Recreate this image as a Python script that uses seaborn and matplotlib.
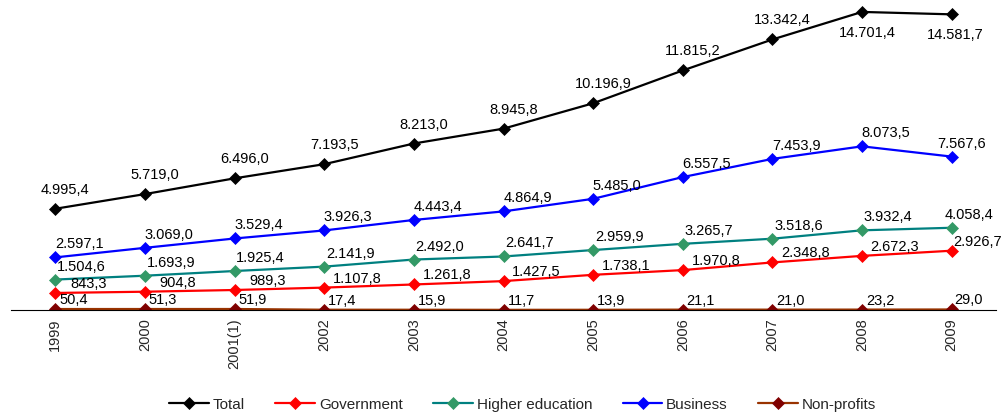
import numpy as np
import pandas as pd
import seaborn as sns
import matplotlib.pyplot as plt

# Data
years = ["1999", "2000", "2001(1)", "2002", "2003", "2004", "2005", "2006", "2007", "2008", "2009"]
total = [4995.4, 5719.0, 6496.0, 7193.5, 8213.0, 8945.8, 10196.9, 11815.2, 13342.4, 14701.4, 14581.7]
government = [843.3, 904.8, 989.3, 1107.8, 1261.8, 1427.5, 1738.1, 1970.8, 2348.8, 2672.3, 2926.7]
higher_education = [1504.6, 1693.9, 1925.4, 2141.9, 2492.0, 2641.7, 2959.9, 3265.7, 3518.6, 3932.4, 4058.4]
business = [2597.1, 3069.0, 3529.4, 3926.3, 4443.4, 4864.9, 5485.0, 6557.5, 7453.9, 8073.5, 7567.6]
non_profits = [50.4, 51.3, 51.9, 17.4, 15.9, 11.7, 13.9, 21.1, 21.0, 23.2, 29.0]

sns.set_style("white")
plt.rcParams['font.family'] = ['Liberation Sans', 'DejaVu Sans']


def fmt(v):
    # european number format: 1.234,5
    s = f"{v:,.1f}"
    return s.replace(",", "X").replace(".", ",").replace("X", ".")


# name, values, line colour, marker colour, label offset (px), x offset of last label
series = [
    ("Total", total, "#000000", "#000000", (10, 19), 4),
    ("Government", government, "#FF0000", "#FF0000", (33, 9), 26),
    ("Higher education", higher_education, "#008080", "#339966", (26, 13), 17),
    ("Business", business, "#0000FF", "#0000FF", (24, 13), 10),
    ("Non-profits", non_profits, "#993300", "#800000", (18, 9), 17),
]

x = np.arange(len(years))

fig = plt.figure(figsize=(10.05, 4.19), dpi=100)
ax = fig.add_axes([0.0105, 0.260, 0.981, 0.726])

handles = []
for name, vals, lc, mc, (dx, dy), last_dx in series:
    sns.lineplot(x=x, y=vals, color=lc, marker="D", markersize=6,
                 markerfacecolor=mc, markeredgecolor=mc, markeredgewidth=0.5,
                 linewidth=1.6, ax=ax, label=name)
    handles.append(ax.get_lines()[-1])
    for i, v in enumerate(vals):
        ox, oy = dx, dy
        if i == len(vals) - 1:
            ox = last_dx
        # the two top Total labels sit under the markers
        if name == "Total" and i >= 9:
            ox, oy = 5 if i == 9 else 4, -21
        ax.annotate(fmt(v), (x[i], v), xytext=(ox, oy), textcoords="offset pixels",
                    ha="center", va="center", fontsize=10.5, color="#000000")

ax.set_xlim(-0.5, len(years) - 0.5)
ax.set_ylim(0, 15000)
ax.set_yticks([])
ax.set_xlabel("")
ax.set_ylabel("")
for s in ["top", "right", "left"]:
    ax.spines[s].set_visible(False)
ax.spines["bottom"].set_color("black")
ax.spines["bottom"].set_linewidth(0.8)

ax.set_xticks(x)
ax.set_xticklabels(years, rotation=90, fontsize=10.5, va="top")
ax.set_xticks(np.arange(-0.5, len(years), 1.0), minor=True)
ax.tick_params(axis="x", which="major", length=0, pad=6)
ax.tick_params(axis="x", which="minor", length=4, color="#888888", direction="out")

if ax.get_legend() is not None:
    ax.get_legend().remove()
fig.legend(handles=handles, labels=[s[0] for s in series], loc="center",
           bbox_to_anchor=(0.52, 0.034), ncol=5, frameon=False, fontsize=11,
           handlelength=2.6, columnspacing=2.0, handletextpad=0.25)

plt.savefig("out.png", dpi=100)
